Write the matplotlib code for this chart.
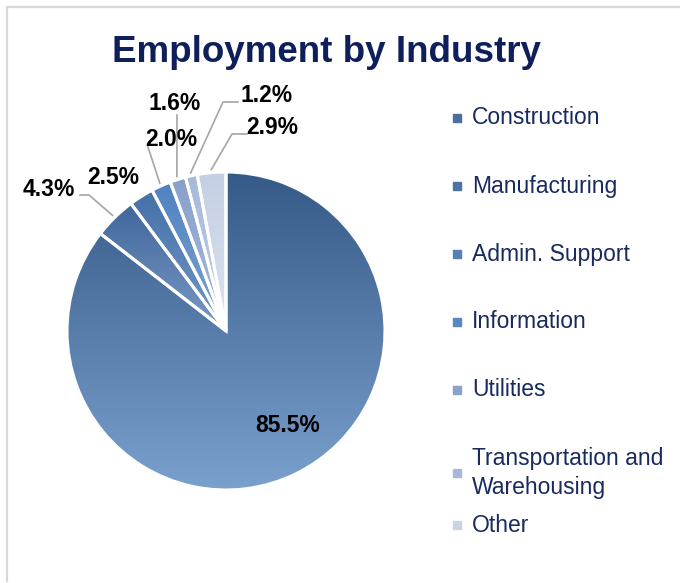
import numpy as np
import matplotlib.pyplot as plt
from matplotlib.colors import LinearSegmentedColormap
from matplotlib.lines import Line2D

industries = ["Construction", "Manufacturing", "Admin. Support", "Information",
              "Utilities", "Transportation and\nWarehousing", "Other"]
shares = [85.5, 4.3, 2.5, 2.0, 1.6, 1.2, 2.9]

# gradient colours for each wedge, top -> bottom
TOP_COLORS = ["#365a88", "#40669b", "#4571a8", "#4f82c0", "#88a1ca", "#a6b9da", "#c4cfe4"]
BOTTOM_COLORS = ["#7aa0cd", "#7a9ac6", "#7598c8", "#80a4d2", "#a8bcdb", "#c2d0e6", "#dce3ef"]
KEY_COLORS = ["#4d6f9f", "#4d73a6", "#5980b5", "#5b87c0", "#8aa3cb", "#a8b8d6", "#c9d3e6"]

NARROW = ["Liberation Sans Narrow", "Liberation Sans", "DejaVu Sans"]
TITLE_COLOR = "#0e1f5b"
TEXT_COLOR = "#182a5e"
LEADER_COLOR = "#a6a6a6"

W, H = 680, 583
CENTER = (226, H - 331)
RADIUS = 159

fig = plt.figure(figsize=(W / 100, H / 100), dpi=100)
ax = fig.add_axes([0, 0, 1, 1])

wedges, _ = ax.pie(shares, center=CENTER, radius=RADIUS, startangle=90,
                   counterclock=False, colors=TOP_COLORS,
                   wedgeprops=dict(edgecolor="white", linewidth=2.2))

grad = np.linspace(0, 1, 256).reshape(-1, 1)
for w, c0, c1 in zip(wedges, TOP_COLORS, BOTTOM_COLORS):
    ext = w.get_path().get_extents()
    cmap = LinearSegmentedColormap.from_list("g", [c0, c1])
    img = ax.imshow(grad, cmap=cmap, aspect="auto", origin="upper",
                    extent=[ext.x0, ext.x1, ext.y0, ext.y1], zorder=1)
    img.set_clip_path(w)
    w.set_facecolor("none")
    w.set_zorder(2)


def px(x, y):
    # pixel coords (y down) -> data coords
    return x, H - y


def edge_point(w, extra=3):
    ang = np.deg2rad((w.theta1 + w.theta2) / 2)
    return (CENTER[0] + (RADIUS + extra) * np.cos(ang),
            CENTER[1] + (RADIUS + extra) * np.sin(ang))


label_kw = dict(fontsize=16.5, fontweight="bold", color="black", family=NARROW, zorder=5)

# big slice label inside
ax.text(*px(288, 426), f"{shares[0]}%", ha="center", va="center", **label_kw)

# small slices: (elbow points in pixels, label anchor, ha)
leaders = [
    ([(89, 195), (80, 195)], (75, 189), "right"),
    (None, (113, 177), "center"),
    ([(148, 147)], (171, 139), "center"),
    ([(177, 115)], (175, 104), "center"),
    ([(223, 102), (238, 102)], (240, 96), "left"),
    ([(232, 134), (247, 134)], (246, 128), "left"),
]
for w, val, (pts, lab, ha) in zip(wedges[1:], shares[1:], leaders):
    if pts is not None:
        x0, y0 = edge_point(w)
        xs = [x0] + [p[0] for p in pts]
        ys = [y0] + [H - p[1] for p in pts]
        ax.add_line(Line2D(xs, ys, color=LEADER_COLOR, lw=1.2, zorder=4))
    ax.text(*px(*lab), f"{val}%", ha=ha, va="center", **label_kw)

# title
ax.text(*px(326, 52), "Employment by Industry", ha="center", va="center",
        fontsize=26.5, fontweight="bold", color=TITLE_COLOR, family=NARROW)

# legend
legend_y = [118, 186, 254, 322, 390, 473, 525]
for name, col, y in zip(industries, KEY_COLORS, legend_y):
    ax.add_patch(plt.Rectangle((453, H - y - 4), 8, 8, color=col, zorder=3))
    ax.text(472, H - y, name, ha="left", va="center", fontsize=16.5,
            color=TEXT_COLOR, family=NARROW, linespacing=1.35)

# light frame on top and left
ax.add_line(Line2D([7, 7, W], [H - 581, H - 7, H - 7], color="#d9d9d9", lw=1.6,
                   solid_joinstyle="miter", zorder=0))

ax.set_xlim(0, W)
ax.set_ylim(0, H)
ax.set_aspect("equal")
ax.axis("off")

fig.savefig("out.png", dpi=100)
